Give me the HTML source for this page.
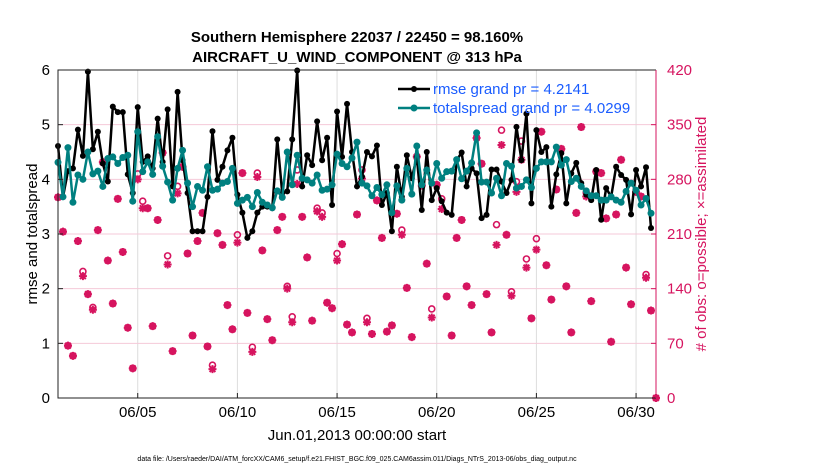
<!DOCTYPE html>
<html><head><meta charset="utf-8"><style>
html,body{margin:0;padding:0;background:#fff;}
svg{display:block;font-family:"Liberation Sans",Arial,sans-serif;}
</style></head><body>
<svg id="chart" width="830" height="470" viewBox="0 0 830 470">
<text x="357" y="42" text-anchor="middle" font-size="15" font-weight="bold">Southern Hemisphere 22037 / 22450 = 98.160%</text>
<text x="357" y="62" text-anchor="middle" font-size="15" font-weight="bold">AIRCRAFT_U_WIND_COMPONENT @ 313 hPa</text>
<g id="grid"></g>
<g id="scatter"></g>
<g id="lines"></g>
<g id="axes"></g>
<text transform="translate(37,234) rotate(-90)" text-anchor="middle" font-size="15">rmse and totalspread</text>
<text transform="translate(706,234) rotate(-90)" text-anchor="middle" font-size="15" fill="#d6145f"># of obs: o=possible; ×=assimilated</text>
<text x="357" y="440" text-anchor="middle" font-size="15">Jun.01,2013 00:00:00 start</text>
<text x="357" y="461" text-anchor="middle" font-size="7">data file: /Users/raeder/DAI/ATM_forcXX/CAM6_setup/f.e21.FHIST_BGC.f09_025.CAM6assim.011/Diags_NTrS_2013-06/obs_diag_output.nc</text>
<g id="legend"></g>
</svg>
<script>
const rmse=[4.61,3.68,4.15,4.2,4.91,4.43,5.97,4.55,4.87,4.29,3.96,5.33,5.23,5.23,4.09,3.75,5.32,4.32,4.42,4.2,5.11,4.32,5.28,3.87,5.6,4.35,3.75,3.05,3.05,3.05,3.68,4.88,3.99,4.23,4.53,4.76,3.72,3.39,2.93,3.05,3.39,3.5,3.5,3.47,4.73,3.75,3.78,4.73,5.99,3.87,4.44,4.26,5.06,4.35,4.76,3.53,5.24,4.41,5.38,4.5,3.87,4.05,4.5,4.42,4.62,3.53,3.75,3.05,4.23,3.68,4.44,4.02,4.41,3.44,4.5,3.62,3.84,3.6,3.39,3.35,4.35,4.49,3.87,4.2,4.11,3.29,3.35,4.18,4.18,3.96,3.75,3.99,4.96,4.35,5.2,3.56,4.9,4.5,4.59,3.5,4.09,4.48,3.56,4.11,4.3,3.93,3.72,3.62,4.17,3.26,3.84,3.68,4.23,4.08,3.99,3.36,4.17,3.87,4.22,3.11];
const spread=[4.31,3.68,4.58,3.58,4.08,4.0,4.5,4.1,4.15,3.87,4.38,4.41,4.29,4.4,4.44,3.6,4.87,4.14,4.32,4.09,4.78,4.24,3.95,3.62,4.2,4.53,3.93,3.5,3.87,3.8,4.23,3.8,3.82,3.93,3.96,4.2,3.56,3.62,3.67,3.5,3.76,3.58,3.53,3.48,3.79,3.67,4.5,3.9,4.44,4.02,3.99,3.93,4.08,3.8,3.82,3.9,4.46,4.29,4.23,4.39,4.68,3.93,3.88,3.7,3.85,3.72,3.9,3.39,3.88,3.62,4.2,3.73,4.61,3.9,4.17,3.93,4.29,4.02,4.14,4.15,4.36,4.01,4.15,4.3,4.85,3.95,3.95,3.75,4.02,3.7,4.29,4.24,3.84,3.87,3.99,3.85,4.2,4.32,4.32,4.32,4.59,4.26,4.36,3.96,4.02,3.87,3.79,3.7,3.7,3.62,3.62,3.68,3.62,3.58,3.78,3.93,3.8,3.53,3.65,3.38];
const assimilated=[257,213,67,54,201,156,133,113,215,302,176,121,255,187,90,38,280,243,243,92,228,314,171,60,262,296,185,80,201,237,66,37,211,196,119,88,199,288,109,59,283,189,101,74,215,232,140,97,274,232,180,99,239,232,122,115,176,197,94,84,235,281,97,82,253,205,85,93,236,209,141,78,309,272,172,103,273,242,130,80,205,228,143,119,333,300,133,84,196,324,209,131,264,305,167,102,190,341,170,126,267,319,143,84,237,347,258,124,290,288,230,72,235,305,167,120,264,258,154,112,0];
const possible=[257,213,67,54,201,162,133,116,215,302,176,121,255,187,90,38,287,252,243,92,228,314,182,60,271,296,185,80,201,237,66,42,211,196,119,88,209,288,109,65,288,189,101,74,215,232,143,104,292,232,180,99,243,237,122,115,185,197,94,84,235,292,102,82,253,205,85,93,236,215,141,78,309,272,172,114,273,255,130,80,205,228,143,119,333,300,133,84,222,343,209,136,277,329,178,102,204,341,170,126,267,319,143,84,237,347,263,124,290,288,230,72,235,305,167,120,264,258,158,112,0];
const leftTicks=[0,1,2,3,4,5,6];
const rightTicks=[0,70,140,210,280,350,420];
const dateTickDays=[4,9,14,19,24,29];
const dateTickLabels=["06/05","06/10","06/15","06/20","06/25","06/30"];
const legendLabels=["rmse grand pr = 4.2141","totalspread grand pr = 4.0299"];
const stepDays=0.25;

const NS="http://www.w3.org/2000/svg";
const L=58,R=656,T=70,B=398;
const xS=d=>L+d*(R-L)/30;
const yL=v=>B-v*(B-T)/6;
const yR=v=>B-v*(B-T)/420;
const RED="#d6145f",TEAL="#008080";
function mk(tag,attrs,parent){const e=document.createElementNS(NS,tag);for(const k in attrs)e.setAttribute(k,attrs[k]);parent.appendChild(e);return e;}
const grid=document.getElementById('grid'),axes=document.getElementById('axes'),sc=document.getElementById('scatter'),ln=document.getElementById('lines'),lg=document.getElementById('legend');

dateTickDays.forEach((d,i)=>{
  const g=mk('line',{x1:xS(d),x2:xS(d),y1:T,y2:B,stroke:'#dcdcdc','stroke-width':1},grid);
  
  
  const t=mk('text',{x:xS(d),y:B+19,'text-anchor':'middle','font-size':15},axes);
  t.textContent=dateTickLabels[i];
  
  
  const tk=mk('line',{x1:xS(d),x2:xS(d),y1:B,y2:B-5,stroke:'#222'},axes);
  
  
});
rightTicks.forEach(v=>{
  if(v>0&&v<420){
    const g=mk('line',{x1:L,x2:R,y1:yR(v),y2:yR(v),stroke:'#f4c9d8','stroke-width':1},grid);
    
    
  }
  const t=mk('text',{x:R+11,y:yR(v)+5,'font-size':15,fill:RED},axes);
  t.textContent=v;
  
  
  const tk=mk('line',{x1:R,x2:R-5,y1:yR(v),y2:yR(v),stroke:RED},axes);
  
  
});
leftTicks.forEach(v=>{
  const t=mk('text',{x:L-8,y:yL(v)+5,'text-anchor':'end','font-size':15},axes);
  t.textContent=v;
  
  
  const tk=mk('line',{x1:L,x2:L+5,y1:yL(v),y2:yL(v),stroke:'#222'},axes);
  
  
});
const frame=mk('path',{d:`M${R},${T} L${L},${T} L${L},${B} L${R},${B}`,fill:'none',stroke:'#222','stroke-width':1},axes);


const ra=mk('line',{x1:R,x2:R,y1:T,y2:B,stroke:RED,'stroke-width':1},axes);



function star(cx,cy,parent){
  const s=4,d=s*0.72;
  const p=mk('path',{d:`M${cx-s},${cy}H${cx+s}M${cx},${cy-s}V${cy+s}M${cx-d},${cy-d}L${cx+d},${cy+d}M${cx-d},${cy+d}L${cx+d},${cy-d}`,stroke:RED,'stroke-width':2,fill:'none'},parent);
  return p;
}
possible.forEach((v,i)=>{
  const c=mk('circle',{cx:xS(i*stepDays),cy:yR(v),r:3,fill:'none',stroke:RED,'stroke-width':1.6},sc);
  
  
});
assimilated.forEach((v,i)=>{
  const p=star(xS(i*stepDays),yR(v),sc);
  
  
});
function series(arr,color,w,r,name){
  const pts=arr.map((v,i)=>xS(i*stepDays).toFixed(2)+','+yL(v).toFixed(2)).join(' ');
  const pl=mk('polyline',{points:pts,fill:'none',stroke:color,'stroke-width':w,'stroke-linejoin':'round'},ln);
  
  
  arr.forEach((v,i)=>{
    const c=mk('circle',{cx:xS(i*stepDays),cy:yL(v),r:r,fill:color},ln);
    
    
  });
}
series(rmse,'#000',2.5,3,'rmse');
series(spread,TEAL,2.5,3.5,'totalspread');

[[ '#000',3],[TEAL,3.5]].forEach((s,i)=>{
  const y=89+i*19;
  const l=mk('line',{x1:398,x2:430,y1:y,y2:y,stroke:s[0],'stroke-width':2.5},lg);
  
  
  const c=mk('circle',{cx:414,cy:y,r:s[1],fill:s[0]},lg);
  
  
  const t=mk('text',{x:433,y:y+5,'font-size':15,fill:'#1a5cff'},lg);
  t.textContent=legendLabels[i];
  
  
});
</script>
</body></html>
